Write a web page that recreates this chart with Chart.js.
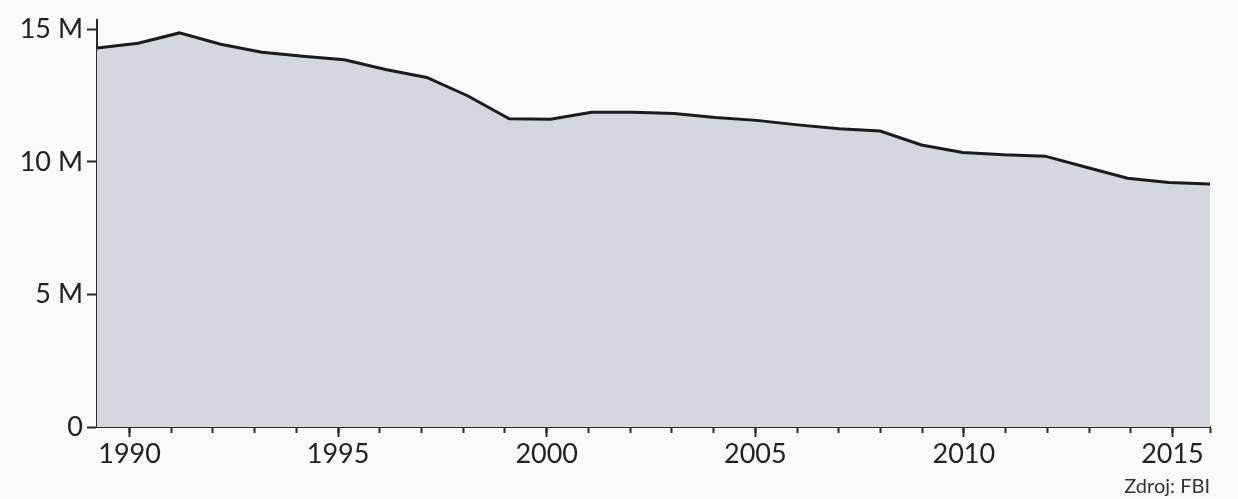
<!DOCTYPE html>
<html>
<head>
<meta charset="utf-8">
<script src="https://cdn.jsdelivr.net/npm/chart.js@4"></script>
<style>
  html, body { margin: 0; padding: 0; background: #fafafa; }
  #wrap { width: 1238px; height: 499px; }
</style>
</head>
<body>
<div id="wrap"><canvas id="crimeChart" width="1238" height="499"></canvas></div>
<script>
// roky a pocet trestnych cinov (v milionoch)
const years = [1989, 1990, 1991, 1992, 1993, 1994, 1995, 1996, 1997, 1998,
  1999, 2000, 2001, 2002, 2003, 2004, 2005, 2006, 2007, 2008,
  2009, 2010, 2011, 2012, 2013, 2014, 2015, 2016];
const crimes = [14.30, 14.48, 14.87, 14.44, 14.14, 13.99, 13.86, 13.49, 13.19, 12.49,
  11.63, 11.61, 11.88, 11.88, 11.83, 11.68, 11.57, 11.40, 11.25, 11.17,
  10.64, 10.36, 10.27, 10.22, 9.80, 9.39, 9.23, 9.17];

// popisky osi
const yTicks = [0, 5, 10, 15];
const labeledYears = [1990, 1995, 2000, 2005, 2010, 2015];
const sourceText = 'Zdroj: FBI';

const textColor = '#222';
const axisColor = '#2a2a2a';
const tickFont = { family: 'Lato', size: 27 };

// os s rokmi je trochu posunuta voci datam (ako v predlohe)
const tickAxisMin = 1989.22;
const tickAxisMax = 2015.9;

const points = years.map((y, i) => ({ x: y, y: crimes[i] }));

const ctx = document.getElementById('crimeChart');
const chart = new Chart(ctx, {
  type: 'line',
  data: {
    datasets: [{
      data: points,
      xAxisID: 'xd',
      fill: 'origin',
      backgroundColor: '#d4d7de',
      borderColor: '#1b1b1b',
      borderWidth: 3,
      pointRadius: 0,
      tension: 0
    }]
  },
  options: {
    responsive: false,
    animation: false,
    devicePixelRatio: 1,
    layout: { padding: { left: 0, right: 28, top: 12, bottom: 0 } },
    plugins: {
      legend: { display: false },
      tooltip: { enabled: false },
      title: {
        display: true,
        text: sourceText,
        position: 'bottom',
        align: 'end',
        color: '#333',
        font: { family: 'Lato', size: 20, weight: 'normal' },
        padding: { top: 12, bottom: 0 }
      }
    },
    scales: {
      // os pre data, neviditelna
      xd: {
        type: 'linear',
        display: false,
        min: years[0],
        max: years[years.length - 1]
      },
      // male ciarky kazdy rok
      xMinor: {
        type: 'linear',
        position: 'bottom',
        weight: 0,
        min: tickAxisMin,
        max: tickAxisMax,
        afterBuildTicks: (scale) => {
          const vals = years.slice(1, -1).concat([tickAxisMax]);
          scale.ticks = vals.map(v => ({ value: v }));
        },
        afterFit: (scale) => { scale.height = 0; },
        ticks: { display: false },
        grid: { drawOnChartArea: false, tickLength: 6, tickWidth: 2, tickColor: axisColor },
        border: { display: true, color: axisColor, width: 2 }
      },
      // velke ciarky s popiskami rokov
      x: {
        type: 'linear',
        position: 'bottom',
        weight: 1,
        min: tickAxisMin,
        max: tickAxisMax,
        afterBuildTicks: (scale) => {
          scale.ticks = labeledYears.map(v => ({ value: v }));
        },
        afterFit: (scale) => { scale.height = 36; },
        ticks: {
          color: textColor,
          font: tickFont,
          padding: 1,
          maxRotation: 0,
          autoSkip: false,
          callback: (v) => String(v)
        },
        grid: { drawOnChartArea: false, tickLength: 10, tickWidth: 2, tickColor: axisColor },
        border: { display: false }
      },
      y: {
        type: 'linear',
        min: 0,
        max: 15.35,
        afterBuildTicks: (scale) => {
          scale.ticks = yTicks.map(v => ({ value: v }));
        },
        afterFit: (scale) => { scale.width = 97; },
        ticks: {
          color: textColor,
          font: tickFont,
          padding: 4,
          callback: (v) => v === 0 ? '0' : v + ' M'
        },
        grid: { drawOnChartArea: false, tickLength: 10, tickWidth: 2, tickColor: axisColor },
        border: { display: true, color: axisColor, width: 2 }
      }
    }
  }
});
</script>
</body>
</html>
